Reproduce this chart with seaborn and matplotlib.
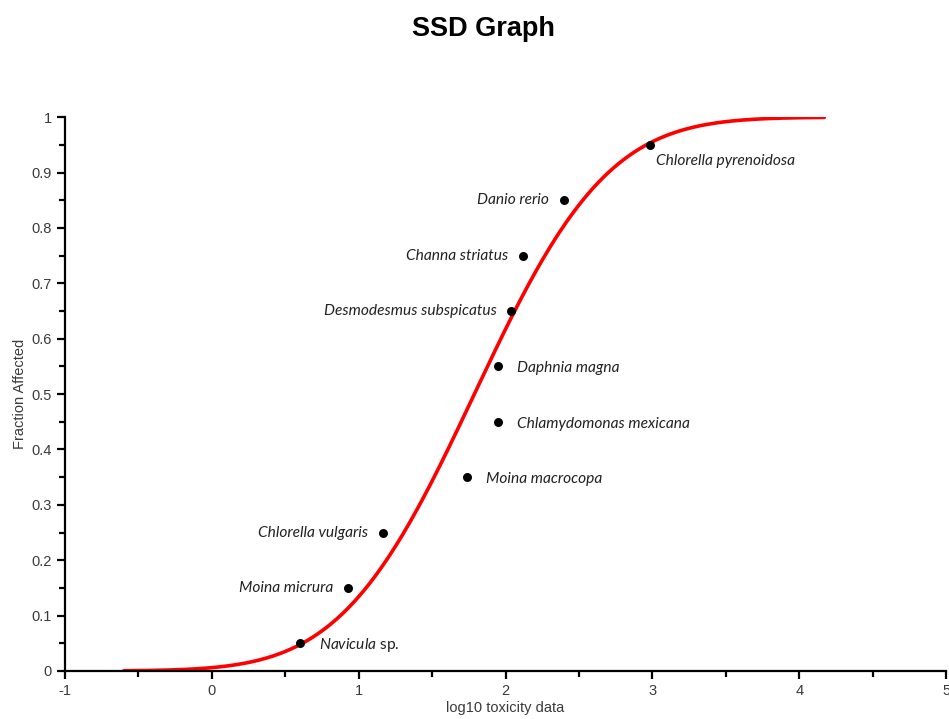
import numpy as np
import pandas as pd
import matplotlib
matplotlib.use("Agg")
import matplotlib.pyplot as plt
from matplotlib.ticker import MultipleLocator
import seaborn as sns
from math import erf, sqrt

# ---- data ----
species = ["Navicula sp.", "Moina micrura", "Chlorella vulgaris", "Moina macrocopa",
           "Chlamydomonas mexicana", "Daphnia magna", "Desmodesmus subspicatus",
           "Channa striatus", "Danio rerio", "Chlorella pyrenoidosa"]
log_tox = [0.60, 0.93, 1.165, 1.74, 1.95, 1.95, 2.04, 2.12, 2.40, 2.98]
fraction = [0.05, 0.15, 0.25, 0.35, 0.45, 0.55, 0.65, 0.75, 0.85, 0.95]
label_side = ["right", "left", "left", "right", "right", "right", "left", "left", "left", "below"]
curve_range = (-0.6, 4.17)

# ---- fitted log-normal SSD (normal fit to the log10 data) ----
mu = float(np.mean(log_tox))
sd = float(np.std(log_tox, ddof=1))
cx = np.linspace(curve_range[0], curve_range[1], 400)
cy = np.array([0.5 * (1 + erf((v - mu) / (sd * sqrt(2)))) for v in cx])
curve = pd.DataFrame({"x": cx, "y": cy})
pts = pd.DataFrame({"x": log_tox, "y": fraction, "name": species})

sns.set_style("ticks")
plt.rcParams["font.family"] = ["Liberation Sans", "DejaVu Sans"]
plt.rcParams["mathtext.fontset"] = "custom"
plt.rcParams["mathtext.it"] = "Lato:italic"
plt.rcParams["mathtext.rm"] = "Lato"

fig = plt.figure(figsize=(9.49, 7.19), dpi=100)
ax = fig.add_axes([0.0685, 0.0668, 0.9285, 0.7702])

sns.lineplot(data=curve, x="x", y="y", ax=ax, color="#ff0000", linewidth=2.6)
sns.scatterplot(data=pts, x="x", y="y", ax=ax, color="black", s=42, edgecolor="black",
                linewidth=0, zorder=5)

px = 72 / 100.0
for name, x, y, side in zip(species, log_tox, fraction, label_side):
    if name.endswith(" sp."):
        text = r"$\it{" + name[:-4] + "}$ sp."
        style = "normal"
    else:
        text = name
        style = "italic"
    if side == "right":
        off, ha, va = (19 * px, -2 * px), "left", "center"
    elif side == "left":
        off, ha, va = (-15 * px, 0), "right", "center"
    else:
        off, ha, va = (6 * px, -16 * px), "left", "center"
    ax.annotate(text, (x, y), xytext=off, textcoords="offset points", ha=ha, va=va,
                fontsize=11.2, family="Lato", style=style, color="#222222")

ax.set_xlim(-1, 5)
ax.set_ylim(0, 1)
ax.xaxis.set_major_locator(MultipleLocator(1))
ax.xaxis.set_minor_locator(MultipleLocator(0.5))
ax.yaxis.set_major_locator(MultipleLocator(0.1))
ax.yaxis.set_minor_locator(MultipleLocator(0.05))
ax.set_yticklabels([f"{v:g}" for v in ax.get_yticks()])
ax.set_xticklabels([f"{v:g}" for v in ax.get_xticks()])

for s in ["top", "right"]:
    ax.spines[s].set_visible(False)
for s in ["left", "bottom"]:
    ax.spines[s].set_linewidth(1.6)
    ax.spines[s].set_color("black")
ax.tick_params(which="major", length=6, width=1.6, color="black", labelsize=10.5,
               labelcolor="#3a3a3a", direction="out")
ax.tick_params(which="minor", length=4, width=1.6, color="black", direction="out")

ax.set_xlabel("log10 toxicity data", fontsize=10.5, color="#3a3a3a", labelpad=2)
ax.set_ylabel("Fraction Affected", fontsize=10.5, color="#3a3a3a", labelpad=3)

fig.text(0.509, 0.960, "SSD Graph", ha="center", va="center", fontsize=19.5,
         fontweight="bold", color="black")

fig.savefig("out.png", dpi=100)
